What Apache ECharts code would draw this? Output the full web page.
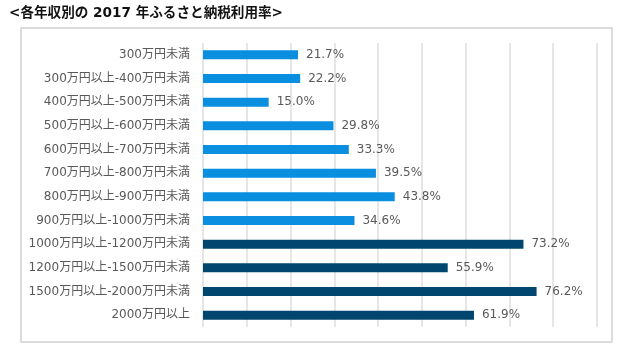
<!DOCTYPE html>
<html><head><meta charset="utf-8">
<script src="https://cdn.jsdelivr.net/npm/echarts@6/dist/echarts.min.js"></script>
<style>html,body{margin:0;padding:0;background:#fff}#c{width:627px;height:351px}</style>
</head><body><div id="c"></div>
<script>
const categories = ['300万円未満','300万円以上-400万円未満','400万円以上-500万円未満','500万円以上-600万円未満','600万円以上-700万円未満','700万円以上-800万円未満','800万円以上-900万円未満','900万円以上-1000万円未満','1000万円以上-1200万円未満','1200万円以上-1500万円未満','1500万円以上-2000万円未満','2000万円以上'];
const values = [21.7,22.2,15.0,29.8,33.3,39.5,43.8,34.6,73.2,55.9,76.2,61.9];
const highIncomeFrom = 8;
const title = '<各年収別の 2017 年ふるさと納税利用率>';
const FONT = '"DejaVu Sans","Noto Sans CJK JP",sans-serif';
const chart = echarts.init(document.getElementById('c'), null, {renderer:'canvas'});
chart.setOption({
  animation:false,
  backgroundColor:'#fff',
  title:{text:title,left:4,top:2,textStyle:{fontFamily:FONT,fontSize:13.6,fontWeight:'bold',color:'#111'}},
  graphic:[{type:'rect',shape:{x:21,y:28,width:591,height:314},style:{fill:null,stroke:'#dcdcdc',lineWidth:2},z:-1}],
  grid:{left:203,right:30,top:43,bottom:24},
  xAxis:{type:'value',min:0,max:90,interval:10,axisLabel:{show:false},axisLine:{show:false},axisTick:{show:false},
    splitLine:{show:true,lineStyle:{color:'#dedede',width:1.5}}},
  yAxis:{type:'category',data:categories,inverse:true,axisLine:{show:false},axisTick:{show:false},
    axisLabel:{margin:13,fontFamily:FONT,fontSize:12,color:'#595959'}},
  series:[{type:'bar',barWidth:9,
    data:values.map((v,i)=>({value:v,itemStyle:{color:i>=highIncomeFrom?'#00466f':'#0a8ee0'}})),
    label:{show:true,position:'right',distance:8,fontFamily:FONT,fontSize:12,color:'#595959',formatter:p=>p.value.toFixed(1)+'%'}}]
});
</script></body></html>
